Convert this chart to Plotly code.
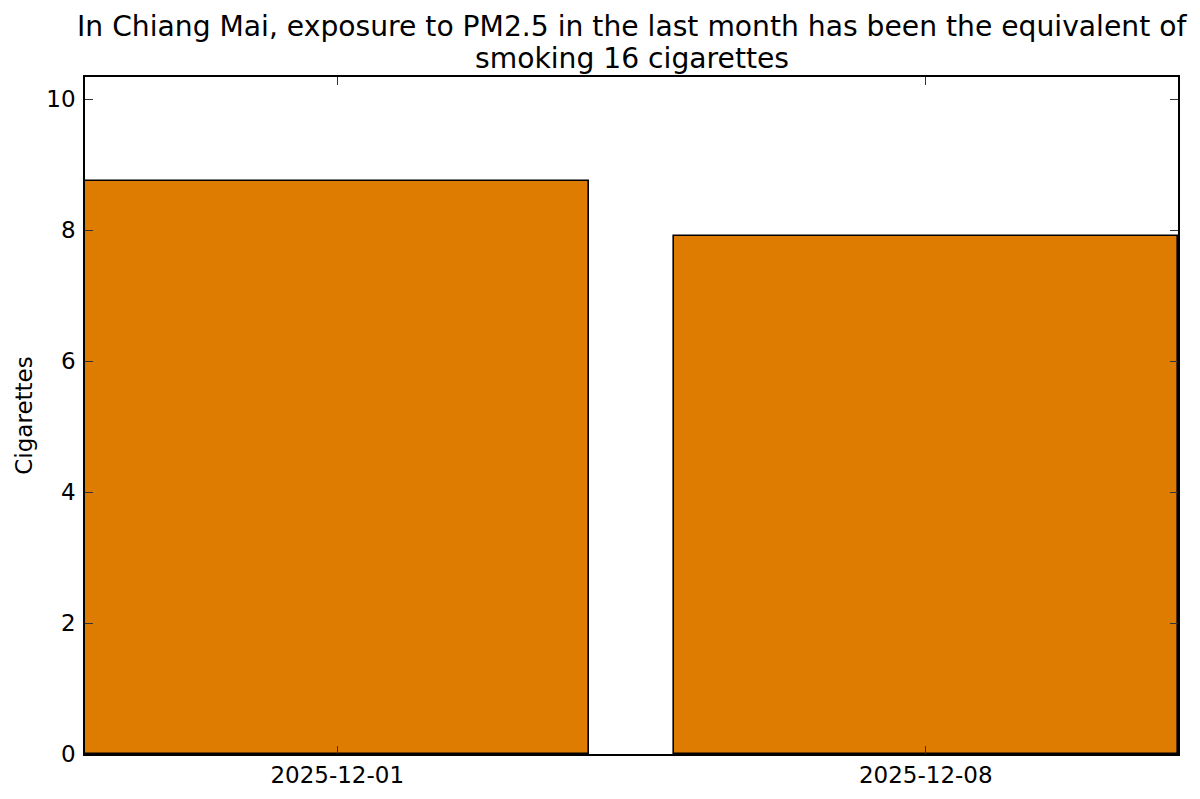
import plotly.graph_objects as go

# Data
dates = ["2025-12-01", "2025-12-08"]
cigarettes = [8.75, 7.91]
tick_vals_x = ["2025-12-01", "2025-12-08"]
tick_text_x = ["2025-12-01", "2025-12-08"]
tick_vals_y = [0, 2, 4, 6, 8, 10]

title_lines = [
    "In Chiang Mai, exposure to PM2.5 in the last month has been the equivalent of",
    "smoking 16 cigarettes",
]

DAY_MS = 86400000
FONT = "DejaVu Sans"

W, H = 1200, 799
OFF = 7  # page body offset
ML, MR, MT, MB = 84 - OFF, 23 + OFF, 76 - OFF, 45 + 8
PLOT_H = H - MT - MB
PLOT_BOTTOM_SCREEN = 754

fig = go.Figure(
    go.Bar(
        x=dates,
        y=cigarettes,
        width=[6 * DAY_MS] * len(dates),
        marker=dict(color="#dd7c00", line=dict(color="black", width=1.6)),
    )
)

axis_common = dict(
    showline=True,
    linecolor="black",
    linewidth=1.5,
    mirror="allticks",
    ticks="inside",
    ticklen=8,
    tickwidth=1,
    tickcolor="#333333",
    showgrid=False,
    zeroline=False,
    automargin=False,
    tickfont=dict(family=FONT, size=23, color="black"),
)

# title lines as annotations, centers in screen pixels from top
title_centers_px = [27, 59]
annotations = []
for line, cy in zip(title_lines, title_centers_px):
    annotations.append(dict(
        text=line,
        xref="paper", yref="paper",
        x=0.5, y=(PLOT_BOTTOM_SCREEN - cy) / PLOT_H,
        xanchor="center", yanchor="middle",
        showarrow=False,
        font=dict(family=FONT, size=28.2, color="black"),
    ))

fig.update_layout(
    width=W,
    height=H,
    margin=dict(l=ML, r=MR, t=MT, b=MB, autoexpand=False),
    paper_bgcolor="white",
    plot_bgcolor="white",
    showlegend=False,
    bargap=0,
    font=dict(family=FONT, color="black"),
    annotations=annotations,
    xaxis=dict(
        type="date",
        range=["2025-11-28", "2025-12-11"],
        tickvals=tick_vals_x,
        ticktext=tick_text_x,
        ticklabelstandoff=0,
        **axis_common,
    ),
    yaxis=dict(
        range=[0, 10.34],
        tickvals=tick_vals_y,
        ticktext=[str(v) for v in tick_vals_y],
        ticklabelstandoff=3,
        title=dict(text="Cigarettes", font=dict(family=FONT, size=23, color="black"), standoff=7),
        **axis_common,
    ),
)

fig.write_html("out.html")
